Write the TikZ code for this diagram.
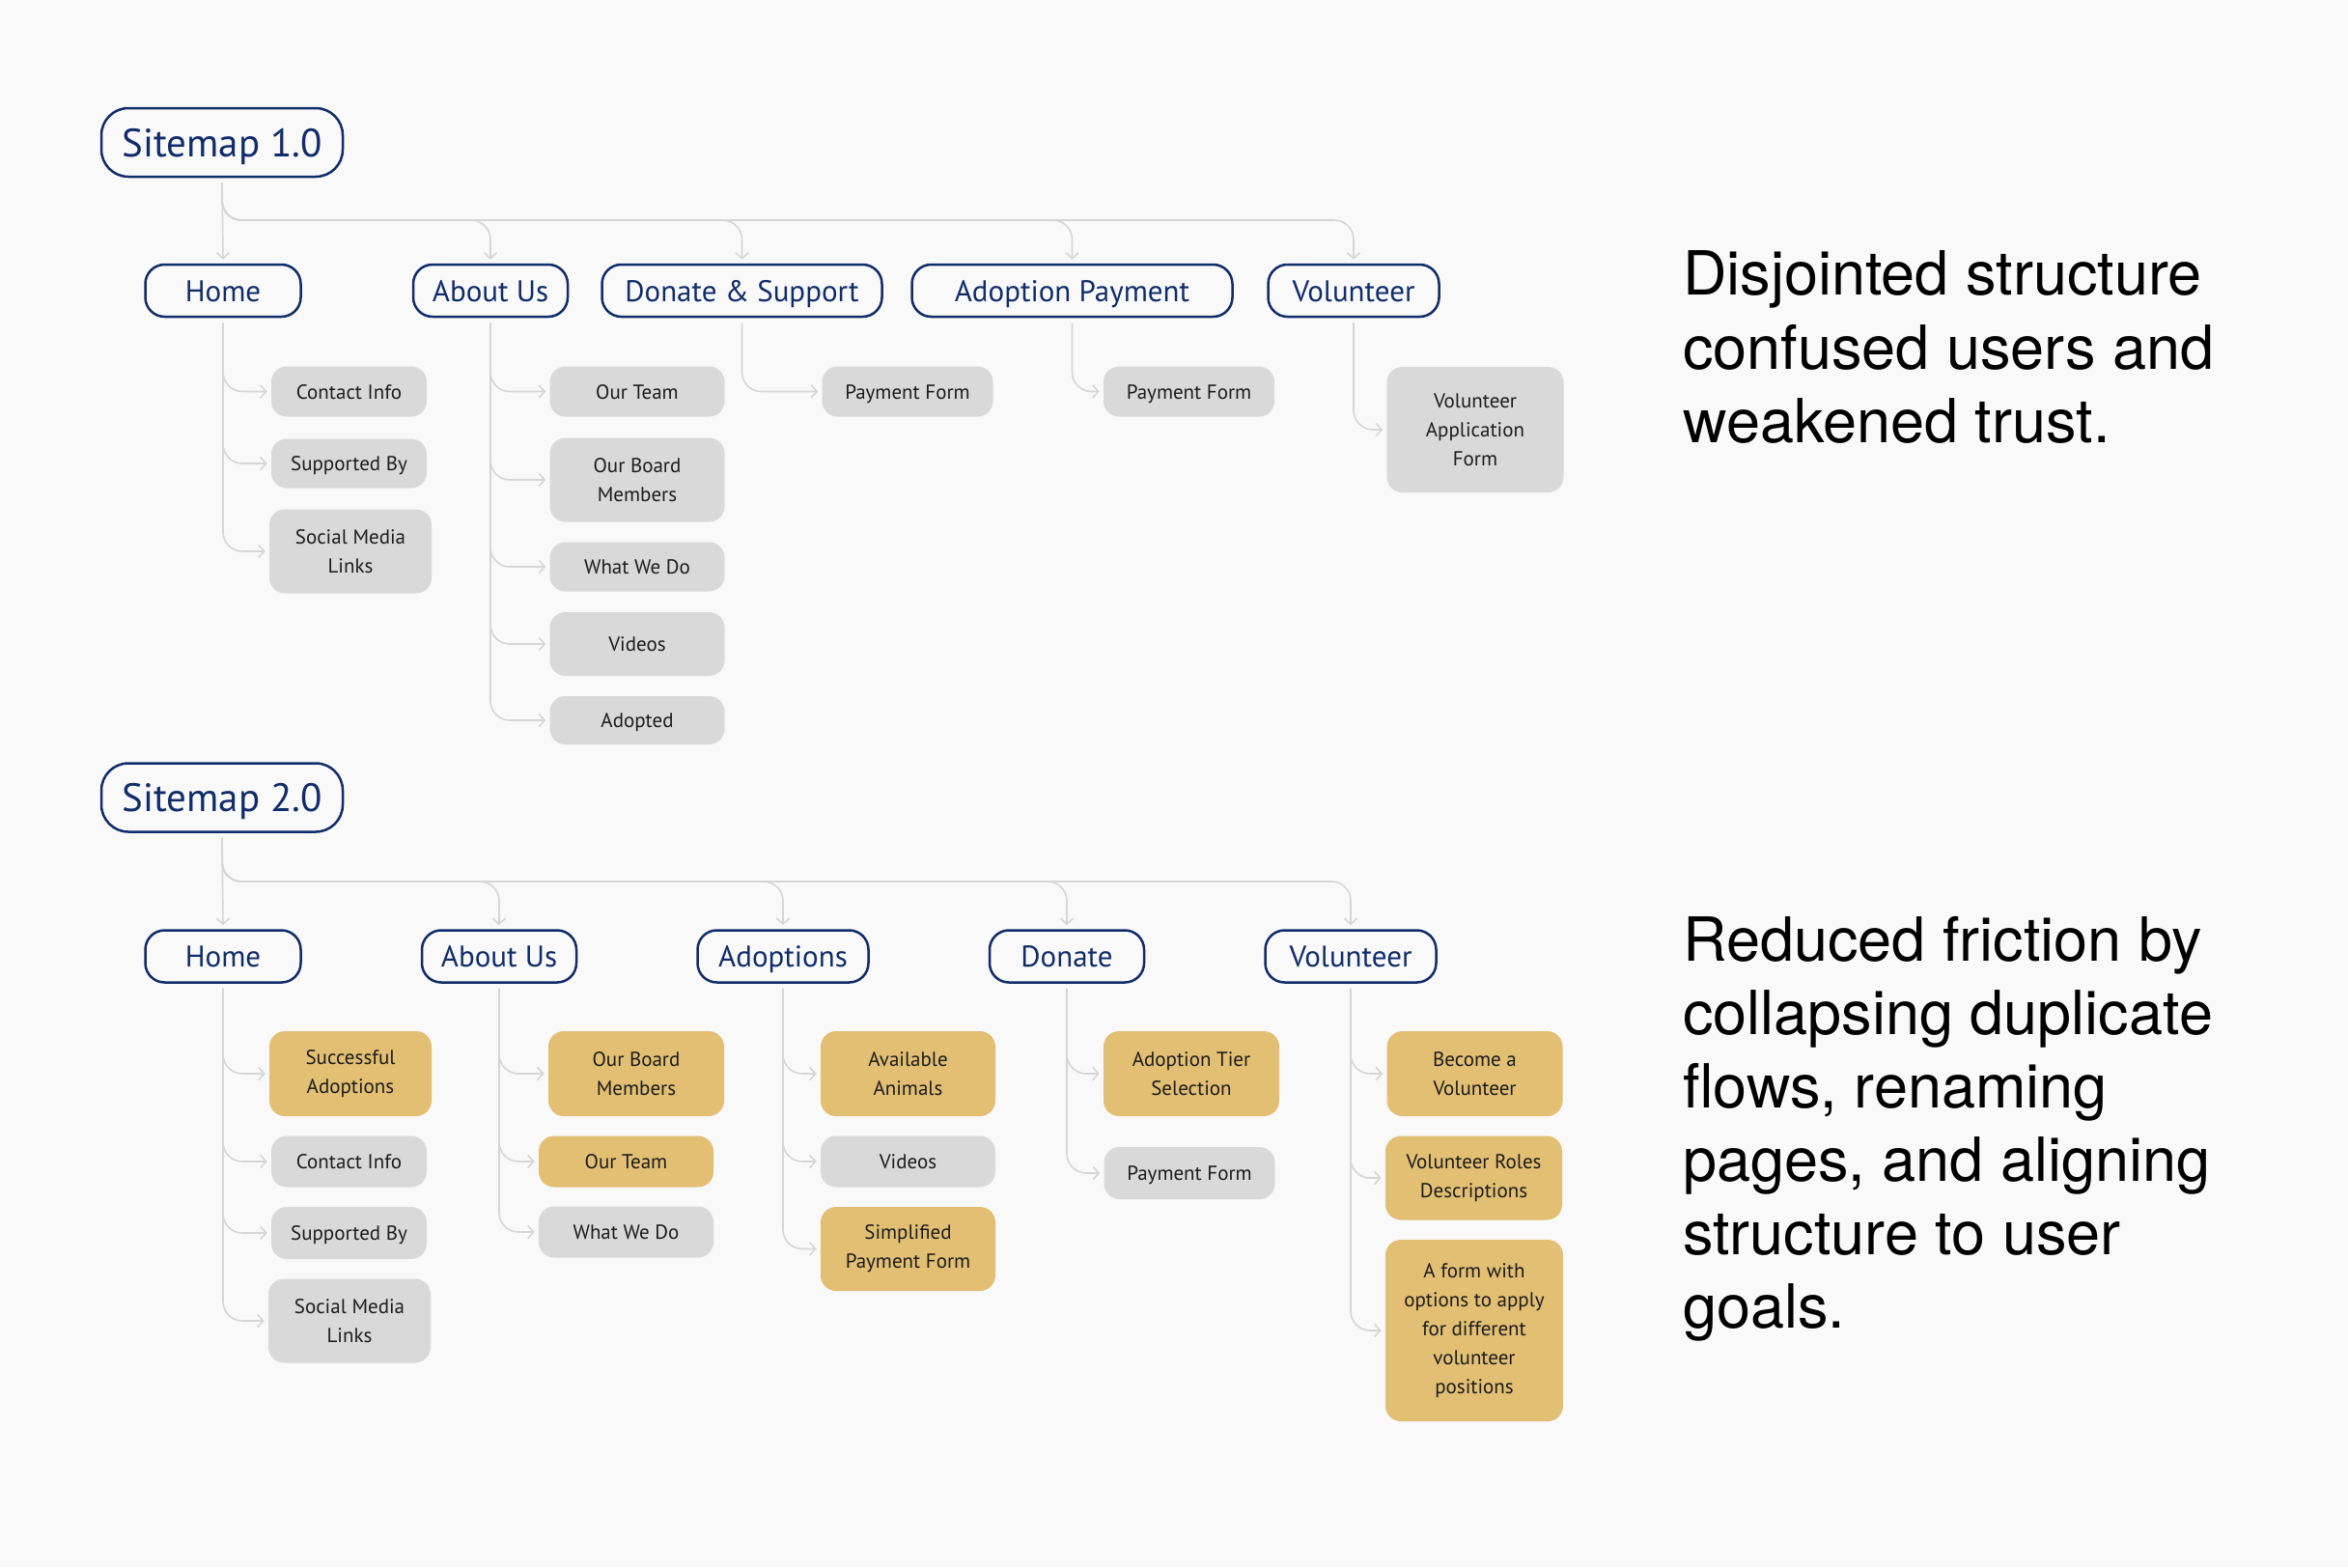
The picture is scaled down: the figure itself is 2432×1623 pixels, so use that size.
\documentclass[tikz,border=0pt]{standalone}
\usepackage{fontspec}
\usetikzlibrary{arrows.meta}
\newfontfamily\labfont{PT Sans}
\newfontfamily\notefont{TeX Gyre Heros}
\definecolor{bgc}{HTML}{F9F9F9}
\definecolor{navy}{HTML}{102C6A}
\definecolor{leafgray}{HTML}{D9D9D9}
\definecolor{goldc}{HTML}{E2BF73}
\definecolor{linec}{HTML}{D6D6D6}
\definecolor{inkc}{HTML}{1C1C1C}
\tikzset{
  rootbox/.style={draw=navy, line width=2.5pt, rounded corners=28pt, fill=bgc, text=navy,
    font=\labfont\fontsize{41}{48}\selectfont, minimum width=250pt, minimum height=71pt, inner sep=0pt,
    text height=29pt, text depth=0pt},
  lvlbox/.style={draw=navy, line width=2.5pt, rounded corners=20pt, fill=bgc, text=navy,
    font=\labfont\fontsize{31}{36}\selectfont, minimum height=54pt, inner sep=0pt,
    text height=22pt, text depth=0pt},
  leafbox/.style={fill=leafgray, rounded corners=16pt, text=inkc, align=center,
    font=\labfont\fontsize{21}{30}\selectfont, inner sep=0pt},
  goldbox/.style={leafbox, fill=goldc},
  oneline/.style={text height=15pt, text depth=0pt},
  conn/.style={draw=linec, line width=1.6pt, rounded corners=20pt,
    -{Straight Barb[length=6pt,width=13pt]}},
  note/.style={anchor=base west, inner sep=0pt, text=black,
    font=\notefont\fontsize{63}{76}\selectfont},
}
\begin{document}
\begin{tikzpicture}[x=1pt,y=-1pt]
\useasboundingbox (0,0) rectangle (2432,1623);
\fill[bgc] (0,0) rectangle (2432,1623);

% ================= Sitemap 1.0 =================
\node[rootbox] (s1) at (230,147.5) {Sitemap 1.0};
\coordinate (h1) at (0,228);
\node[lvlbox, minimum width=161pt] (thome) at (231,301) {Home};
\node[lvlbox, minimum width=160pt] (tabout) at (508,301) {About Us};
\node[lvlbox, minimum width=290pt] (tdonate) at (768.5,301) {Donate \& Support};
\node[lvlbox, minimum width=332pt] (tadopt) at (1110.5,301) {Adoption Payment};
\node[lvlbox, minimum width=177pt] (tvol) at (1402,301) {Volunteer};

\node[leafbox, oneline, minimum width=161pt, minimum height=52pt] (tcontact) at (361.5,405.5) {Contact Info};
\node[leafbox, oneline, minimum width=161pt, minimum height=51pt] (tsupp) at (361.5,480) {Supported By};
\node[leafbox, minimum width=168pt, minimum height=87pt] (tsocial) at (363,571) {Social Media\\Links};
\node[leafbox, oneline, minimum width=181pt, minimum height=52pt] (tteam) at (660,405.5) {Our Team};
\node[leafbox, minimum width=181pt, minimum height=87pt] (tboard) at (660,497) {Our Board\\Members};
\node[leafbox, oneline, minimum width=181pt, minimum height=51pt] (twhat) at (660,587) {What We Do};
\node[leafbox, oneline, minimum width=181pt, minimum height=66pt] (tvideos) at (660,667) {Videos};
\node[leafbox, oneline, minimum width=181pt, minimum height=50pt] (tadopted) at (660,746) {Adopted};
\node[leafbox, oneline, minimum width=177pt, minimum height=52pt] (tpay1) at (940,405.5) {Payment Form};
\node[leafbox, oneline, minimum width=177pt, minimum height=52pt] (tpay2) at (1231.5,405.5) {Payment Form};
\node[leafbox, minimum width=183pt, minimum height=130pt] (tvolapp) at (1528,445) {Volunteer\\Application\\Form};

\draw[conn] ([yshift=-5pt]s1.south) -- ([yshift=4pt]thome.north);
\foreach \n in {tabout,tdonate,tadopt,tvol}
  \draw[conn] ([yshift=-5pt]s1.south) |- (h1 -| \n.north) -- ([yshift=4pt]\n.north);

\foreach \p/\c in {thome/tcontact, thome/tsupp, thome/tsocial,
                   tabout/tteam, tabout/tboard, tabout/twhat, tabout/tvideos, tabout/tadopted,
                   tdonate/tpay1, tadopt/tpay2, tvol/tvolapp}
  \draw[conn] ([yshift=-5pt]\p.south) |- ([xshift=-4pt]\c.west);

% ================= Sitemap 2.0 =================
\node[rootbox] (s2) at (230,826) {Sitemap 2.0};
\coordinate (h2) at (0,913);
\node[lvlbox, minimum width=161pt] (bhome) at (231,990.5) {Home};
\node[lvlbox, minimum width=160pt] (babout) at (517,990.5) {About Us};
\node[lvlbox, minimum width=177pt] (badopt) at (811,990.5) {Adoptions};
\node[lvlbox, minimum width=160pt] (bdonate) at (1105,990.5) {Donate};
\node[lvlbox, minimum width=177pt] (bvol) at (1399,990.5) {Volunteer};

\node[goldbox, minimum width=168pt, minimum height=88pt] (bsucc) at (363,1112) {Successful\\Adoptions};
\node[leafbox, oneline, minimum width=161pt, minimum height=53pt] (bcontact) at (361.5,1203) {Contact Info};
\node[leafbox, oneline, minimum width=161pt, minimum height=54pt] (bsupp) at (361.5,1277) {Supported By};
\node[leafbox, minimum width=168pt, minimum height=87pt] (bsocial) at (362,1368) {Social Media\\Links};

\node[goldbox, minimum width=182pt, minimum height=88pt] (bboard) at (659,1112) {Our Board\\Members};
\node[goldbox, oneline, minimum width=181pt, minimum height=53pt] (bteam) at (648.5,1203) {Our Team};
\node[leafbox, oneline, minimum width=181pt, minimum height=53pt] (bwhat) at (648.5,1276) {What We Do};

\node[goldbox, minimum width=181pt, minimum height=88pt] (bavail) at (940.5,1112) {Available\\Animals};
\node[leafbox, oneline, minimum width=181pt, minimum height=53pt] (bvideos) at (940.5,1203) {Videos};
\node[goldbox, minimum width=181pt, minimum height=87pt] (bsimpl) at (940.5,1293.5) {Simplified\\Payment Form};

\node[goldbox, minimum width=182pt, minimum height=88pt] (btier) at (1234,1112) {Adoption Tier\\Selection};
\node[leafbox, oneline, minimum width=177pt, minimum height=54pt] (bpay) at (1232,1215) {Payment Form};

\node[goldbox, minimum width=182pt, minimum height=88pt] (bbecome) at (1527.5,1112) {Become a\\Volunteer};
\node[goldbox, minimum width=183pt, minimum height=87pt] (broles) at (1526.5,1220) {Volunteer Roles\\Descriptions};
\node[goldbox, minimum width=184pt, minimum height=188pt] (bform) at (1527,1378) {A form with\\options to apply\\for different\\volunteer\\positions};

\draw[conn] ([yshift=-5pt]s2.south) -- ([yshift=4pt]bhome.north);
\foreach \n in {babout,badopt,bdonate,bvol}
  \draw[conn] ([yshift=-5pt]s2.south) |- (h2 -| \n.north) -- ([yshift=4pt]\n.north);

\foreach \p/\c in {bhome/bsucc, bhome/bcontact, bhome/bsupp, bhome/bsocial,
                   babout/bboard, babout/bteam, babout/bwhat,
                   badopt/bavail, badopt/bvideos, badopt/bsimpl,
                   bdonate/btier, bdonate/bpay,
                   bvol/bbecome, bvol/broles, bvol/bform}
  \draw[conn] ([yshift=-5pt]\p.south) |- ([xshift=-4pt]\c.west);

% ================= Notes =================
\node[note] (n1a) at (1743,305) {Disjointed structure};
\node[note] (n1b) at (1743,382) {confused users and};
\node[note] (n1c) at (1743,458) {weakened trust.};

\node[note] (n2a) at (1743,995) {Reduced friction by};
\node[note] (n2b) at (1743,1071) {collapsing duplicate};
\node[note] (n2c) at (1743,1147) {flows, renaming};
\node[note] (n2d) at (1743,1223) {pages, and aligning};
\node[note] (n2e) at (1743,1299) {structure to user};
\node[note] (n2f) at (1743,1375) {goals.};
\end{tikzpicture}
\end{document}
